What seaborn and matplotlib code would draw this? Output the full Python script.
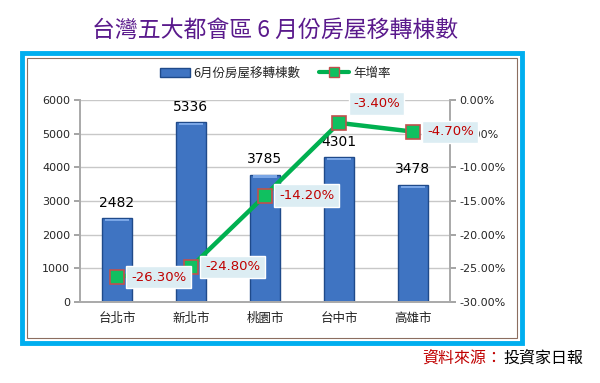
import numpy as np
import pandas as pd
import matplotlib.pyplot as plt
import seaborn as sns
from matplotlib.patches import Rectangle, Patch
from matplotlib.lines import Line2D

sns.set_theme(style="white")
plt.rcParams['font.family'] = ['Noto Sans CJK TC', 'DejaVu Sans']

# data
cities = ['台北市', '新北市', '桃園市', '台中市', '高雄市']
counts = [2482, 5336, 3785, 4301, 3478]
growth = [-26.30, -24.80, -14.20, -3.40, -4.70]
left_ticks = [0, 1000, 2000, 3000, 4000, 5000, 6000]
right_ticks = [0, -5, -10, -15, -20, -25, -30]

df = pd.DataFrame({'city': cities, 'count': counts, 'growth': growth})

fig = plt.figure(figsize=(6, 3.83), dpi=100)

# outer frame (behind the axes)
frame = Rectangle((22 / 600, 1 - 343 / 383), 500 / 600, 290 / 383, transform=fig.transFigure,
                  facecolor='white', edgecolor='#00aeef', linewidth=3.5, zorder=-5)
fig.patches.append(frame)
inner = Rectangle((27 / 600, 1 - 338 / 383), 490 / 600, 280 / 383, transform=fig.transFigure,
                  facecolor='none', edgecolor='#8c6e60', linewidth=0.8, zorder=-4)
fig.patches.append(inner)

ax = fig.add_axes([80 / 600, 1 - 302 / 383, 370 / 600, 202 / 383])
ax.set_facecolor('none')

sns.barplot(data=df, x='city', y='count', color='#3f74c2', width=0.4, ax=ax,
            edgecolor='#1f4a8a', linewidth=1, saturation=1, zorder=2)
# small highlight on bar tops
for p in list(ax.patches):
    x0, w, h = p.get_x(), p.get_width(), p.get_height()
    ax.add_patch(Rectangle((x0 + w * 0.08, h - 90), w * 0.84, 70, facecolor='#7aa6e6',
                           edgecolor='none', zorder=3))

ax.set_ylim(0, 6000)
ax.set_xlim(-0.5, 4.5)
ax.set_yticks(left_ticks)
ax.set_yticklabels([str(t) for t in left_ticks], fontsize=8, family='DejaVu Sans')
ax.yaxis.grid(True, color='#c8c8c8', linewidth=1, zorder=0)
ax.set_axisbelow(True)
ax.set_xlabel('')
ax.set_ylabel('')
ax.set_xticks(np.arange(-0.5, 5, 1))
ax.set_xticklabels([''] * 6)
ax.set_xticks(np.arange(5), minor=True)
ax.set_xticklabels(cities, minor=True, fontsize=9, color='#222222')
ax.tick_params(axis='x', which='major', length=4, color='#999999', direction='out')
ax.tick_params(axis='x', which='minor', length=0, pad=7)
ax.tick_params(axis='y', length=4, color='#999999', direction='out', left=True, pad=3)
ax.spines['top'].set_visible(False)
for s in ['left', 'bottom', 'right']:
    ax.spines[s].set_color('#aaaaaa')

for i, v in enumerate(counts):
    ax.text(i, v + 250, str(v), ha='center', va='bottom', fontsize=10, color='black',
            family='DejaVu Sans')

ax2 = ax.twinx()
sns.lineplot(x=np.arange(5), y=growth, ax=ax2, color='#00b050', linewidth=3.2, sort=False,
             marker='s', markersize=10, markerfacecolor='#10c060', markeredgecolor='#c0504d',
             markeredgewidth=1.2, zorder=5)
ax2.set_ylim(-30, 0)
ax2.set_yticks(right_ticks)
ax2.set_yticklabels([f'{t:.2f}%' for t in right_ticks], fontsize=8, family='DejaVu Sans')
ax2.tick_params(axis='y', length=4, color='#999999', direction='out', pad=3)
ax2.spines['top'].set_visible(False)
for s in ['left', 'bottom', 'right']:
    ax2.spines[s].set_color('#aaaaaa')

box = dict(boxstyle='square,pad=0.35', facecolor='#dcedf3', edgecolor='white', linewidth=1)
for i, g in enumerate(growth):
    if i == 3:
        ax2.annotate(f'{g:.2f}%', (i, g), xytext=(27, 14), textcoords='offset points',
                     ha='center', va='center', fontsize=9.5, color='#c00000', bbox=box,
                     family='DejaVu Sans', zorder=6)
    else:
        ax2.annotate(f'{g:.2f}%', (i, g), xytext=(10, 0), textcoords='offset points',
                     ha='left', va='center', fontsize=9.5, color='#c00000', bbox=box,
                     family='DejaVu Sans', zorder=6)

handles = [Patch(facecolor='#3f74c2', edgecolor='#1f4a8a'),
           Line2D([0], [0], color='#00b050', linewidth=3, marker='s', markersize=7,
                  markerfacecolor='#10c060', markeredgecolor='#c0504d')]
fig.legend(handles, ['6月份房屋移轉棟數', '年增率'], loc='center', ncol=2,
           bbox_to_anchor=(275 / 600, 1 - 73 / 383), frameon=False, fontsize=9,
           handlelength=2.4, columnspacing=1.5, handletextpad=0.3)

fig.text(275 / 600, 1 - 30 / 383, '台灣五大都會區 6 月份房屋移轉棟數', ha='center', va='center',
         fontsize=16.5, color='#5a1a8c', fontweight='medium')
fig.text(422 / 600, 1 - 358 / 383, '資料來源：', ha='left', va='center', fontsize=11.5,
         color='#c00000')
fig.text(503 / 600, 1 - 358 / 383, '投資家日報', ha='left', va='center', fontsize=11.5,
         color='black')

fig.savefig('out.png', dpi=100)
